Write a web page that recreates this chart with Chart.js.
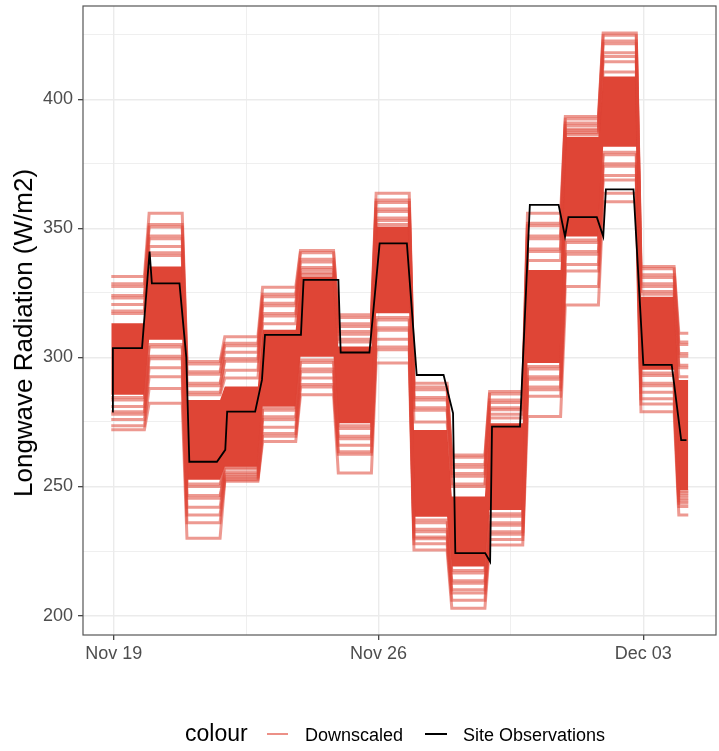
<!DOCTYPE html>
<html><head><meta charset="utf-8">
<script src="https://cdn.jsdelivr.net/npm/chart.js@4.4.1/dist/chart.umd.min.js"></script>
<style>
html,body{margin:0;padding:0;background:#fff;}
#wrap{position:relative;width:719px;height:751px;overflow:hidden;}
#c{position:absolute;left:0;top:0;}
.lg{position:absolute;font-family:"Liberation Sans",Arial,Helvetica,sans-serif;white-space:nowrap;line-height:1;}
.key{position:absolute;height:2px;}
#ytitle{position:absolute;left:22.6px;top:333px;transform:translate(-50%,-50%) rotate(-90deg);
  font-family:"Liberation Sans",Arial,Helvetica,sans-serif;font-size:26px;line-height:1;white-space:nowrap;color:#000;}
</style></head><body>
<div id="wrap">
<canvas id="c" width="719" height="751"></canvas>
<div id="ytitle">Longwave Radiation (W/m2)</div>
<div class="lg" style="left:185px;top:721.5px;font-size:23px;color:#000;">colour</div>
<div class="key" style="left:267px;top:732.5px;width:21px;background:rgba(224,70,55,0.6);"></div>
<div class="lg" style="left:305px;top:725.5px;font-size:18px;color:#000;">Downscaled</div>
<div class="key" style="left:425px;top:732.5px;width:22px;background:#000;"></div>
<div class="lg" style="left:463px;top:725.5px;font-size:18px;color:#000;">Site Observations</div>
</div>
<script>
// ---- categories (days) ----
const dayLabels = ['Nov 19','Nov 20','Nov 21','Nov 22','Nov 23','Nov 24','Nov 25','Nov 26',
                   'Nov 27','Nov 28','Nov 29','Nov 30','Dec 01','Dec 02','Dec 03','Dec 04'];
const sampleHours = [0,3,6,9,12,15,18,21];
const lastDayHours = [0,3,6];
const hourOffset = -1.5;

// ---- downscaled ensemble: visible member values per day (W/m2) ----
const nov19 = [331.3,328.5,327.5,324,323,320.5,318,317, 284.5,283.5,281,279,278,276,273.5,272];
const nov20 = [355.8,351.5,350.5,347,346,343,340.5,339.5, 305,304,300.5,299.5,296,292.5,288,282.3];
const nov21 = [298.4,297.5,294.5,293.5,290,289,286.5,285.5, 251,250,246.5,245.5,242,239,236,230];
const nov22 = [308,305.5,304.5,302,299.5,298.5,295,292, 257.5,256.8,255.5,254.8,254,253.3,252.6,252];
const nov23 = [327.2,324.5,323.5,321,320,317,316,313, 280.5,279.5,277,276,273,270.5,269.5,267.4];
const nov24 = [341.4,340.5,338,337,334.8,334,332.8,332, 299,298,295.5,294.5,292,289.5,288.5,285.5];
const nov25 = [316.5,315.5,313,312,310,309,307,306, 273.5,272.5,269.5,268.5,266,263.5,262.5,255.2];
const nov26 = [363.6,361,360,357.5,356.5,354,353,351.5, 315.5,314.5,311.5,310.5,307,304,303,297.8];
const nov27 = [290,288.5,287.5,284.5,283.5,280.5,279.5,275, 237,236,233.5,232.5,230.5,229.8,227.8,225.4];
const nov28 = [262.2,261.3,258.5,257.5,255,254,251,250, 217.5,216.5,213.5,212.5,210,208.8,206,202.9];
const nov29 = [286.8,285.8,283.5,282.5,280.5,279.7,278,276.5, 239.5,238.5,236,235,232.5,231.5,229.5,227.4];
const nov30 = [355.8,352,351,347,346,342,341,337.5, 296.5,295.5,292.5,291.5,288.5,287.5,285,277.1];
const dec01 = [393.3,392.3,390.8,389.8,388.5,387.8,387,386.3, 345.5,344.5,341,340,336,333.5,327.5,320.3];
const dec02 = [425.6,424.8,422.5,421.5,418,416.5,414.5,410.5, 379.5,378.5,375,374,370.5,368.7,363.6,360.3];
const dec03 = [335.2,334.3,332,331,328.5,327.5,325.5,324.5, 294,293,290,289,286.5,284,282,279];
const dec04 = [309.4,306,305,301.5,300.5,297,296,292.5, 248.3,247.5,246.5,245.5,244.5,243.5,242.3,239];
const dayMembers = [nov19,nov20,nov21,nov22,nov23,nov24,nov25,nov26,nov27,nov28,nov29,nov30,dec01,dec02,dec03,dec04];

// dense core of the ensemble (many overlapping members) per day
const coreHigh = [313.2,335.2,283.5,288.7,310.7,331.3,304.2,350.7,271.9,246.1,274.5,333.9,385.5,408.8,323.5,291.3];
const coreLow  = [285.5,306.8,252.6,257.7,281.0,300.3,274.5,317.1,238.3,219.0,240.9,297.8,346.8,381.6,295.2,248.7];

// ---- site observations (days since Nov 19, W/m2) ----
const obsDay = [-0.04,-0.02,0.75,0.95,1.01,1.74,1.92,2.0,2.73,2.95,3.0,3.74,3.92,4.0,4.95,5.02,5.94,6.0,6.76,7.03,
                7.75,8.01,8.72,8.97,9.03,9.82,9.95,10.0,10.74,11.0,11.76,11.93,12.02,12.77,12.94,13.01,13.74,14.0,14.75,15.0,15.14];
const obsValue = [279,303.6,303.6,341,328.7,328.7,300,259.6,259.6,264.2,279,279,291.3,308.7,308.7,330,330,301.9,301.9,344.2,
                  344.2,293.2,293.2,278.4,224.2,224.2,220.9,273.2,273.2,359.1,359.1,346.8,354.3,354.3,346.8,365.1,365.1,297.1,297.1,268,268];

// ---- axes ----
const xMajor = [0,7,14];
const xMajorLabels = ['Nov 19','Nov 26','Dec 03'];
const xMinor = [3.5,10.5];
const yMajor = [200,250,300,350,400];
const yMinor = [225,275,325,375,425];

// ---- build ----
const RED = 'rgb(223,69,54)';
const RED_A = 'rgba(223,69,54,0.55)';
function timesFor(d){
  const hs = d === dayLabels.length-1 ? lastDayHours : sampleHours;
  return hs.map(h => d + (h + hourOffset)/24);
}
function seriesFrom(perDay){
  const pts = [];
  perDay.forEach((v,d) => timesFor(d).forEach(t => pts.push({x:t, y:v})));
  return pts;
}
const datasets = [];
datasets.push({label:'Site Observations', data: obsDay.map((d,i)=>({x:d,y:obsValue[i]})),
  borderColor:'#000', borderWidth:1.8, order:0, fill:false});
const nMembers = nov19.length;
for(let k=0;k<nMembers;k++){
  datasets.push({label:'Downscaled', data: seriesFrom(dayMembers.map(a=>a[k])),
    borderColor:RED_A, borderWidth:3, order:2, fill:false});
}
datasets.push({label:'core-high', data: seriesFrom(coreHigh), borderColor:'rgba(0,0,0,0)', borderWidth:0, order:3, fill:false});
datasets.push({label:'core-low', data: seriesFrom(coreLow), borderColor:'rgba(0,0,0,0)', borderWidth:0, order:3,
  fill:'-1', backgroundColor:RED});

const panelBorder = {
  id:'panelBorder',
  afterDraw(chart){
    const {ctx, chartArea:a} = chart;
    ctx.save();
    ctx.strokeStyle = '#555';
    ctx.lineWidth = 1.2;
    ctx.strokeRect(a.left, a.top, a.right-a.left, a.bottom-a.top);
    ctx.restore();
  }
};

const FONT = '"Liberation Sans", Arial, Helvetica, sans-serif';
new Chart(document.getElementById('c'), {
  type:'line',
  data:{datasets},
  plugins:[panelBorder],
  options:{
    responsive:false, animation:false, devicePixelRatio:1, events:[],
    layout:{padding:{left:0,right:3,top:6,bottom:76}},
    elements:{point:{radius:0}, line:{tension:0}},
    plugins:{legend:{display:false}, tooltip:{enabled:false}},
    scales:{
      x:{type:'linear', min:-0.81, max:15.92,
        afterBuildTicks(s){ s.ticks = xMajor.concat(xMinor).sort((a,b)=>a-b).map(v=>({value:v})); },
        afterFit(s){ s.height = 40; s.paddingLeft = 0; s.paddingRight = 0; },
        border:{display:false},
        grid:{color:'#EBEBEB', lineWidth:c=> xMajor.includes(c.tick && c.tick.value) ? 1.4 : 0.8,
              tickLength:5, tickWidth:1.2,
              tickColor:c=> xMajor.includes(c.tick && c.tick.value) ? '#333' : 'rgba(0,0,0,0)'},
        ticks:{autoSkip:false, maxRotation:0, padding:3, color:'#4D4D4D', font:{family:FONT,size:18},
          callback:v=>{ const i = xMajor.indexOf(v); return i>=0 ? xMajorLabels[i] : ''; }}
      },
      y:{type:'linear', min:192.5, max:436.1,
        afterBuildTicks(s){ s.ticks = yMajor.concat(yMinor).sort((a,b)=>a-b).map(v=>({value:v})); },
        afterFit(s){ s.width = 83; s.paddingTop = 0; s.paddingBottom = 0; },
        border:{display:false},
        grid:{color:'#EBEBEB', lineWidth:c=> yMajor.includes(c.tick && c.tick.value) ? 1.4 : 0.8,
              tickLength:5, tickWidth:1.2,
              tickColor:c=> yMajor.includes(c.tick && c.tick.value) ? '#333' : 'rgba(0,0,0,0)'},
        ticks:{autoSkip:false, padding:5, color:'#4D4D4D', font:{family:FONT,size:18},
          callback:v=> yMajor.includes(v) ? String(v) : ''}
      }
    }
  }
});
</script>
</body></html>
